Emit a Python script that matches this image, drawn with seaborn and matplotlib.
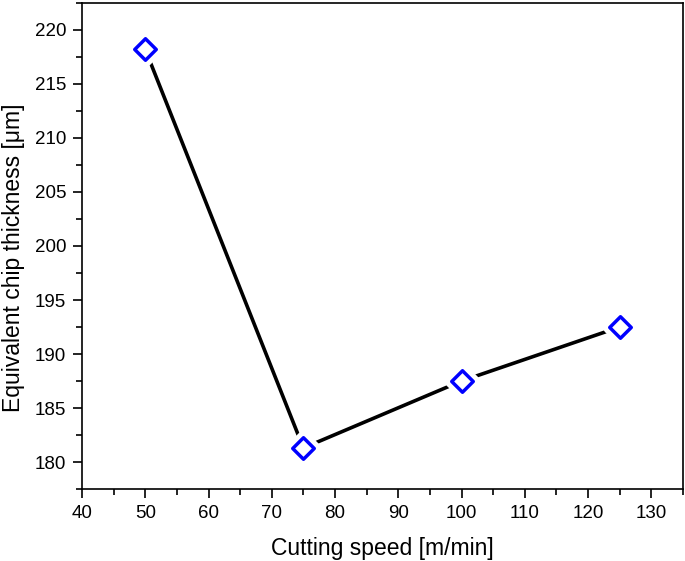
import numpy as np
import pandas as pd
import matplotlib
matplotlib.use('Agg')
import matplotlib.pyplot as plt
import seaborn as sns
from matplotlib.ticker import MultipleLocator

# Дані
cutting_speed = [50, 75, 100, 125]
chip_thickness = [218.2, 181.3, 187.5, 192.5]

df = pd.DataFrame({'speed': cutting_speed, 'thickness': chip_thickness})

sns.set_style('ticks')
plt.rcParams['font.family'] = ['Liberation Sans', 'DejaVu Sans']
plt.rcParams['axes.linewidth'] = 1.2
plt.rcParams['text.color'] = 'black'
plt.rcParams['axes.labelcolor'] = 'black'
plt.rcParams['xtick.color'] = 'black'
plt.rcParams['ytick.color'] = 'black'

fig = plt.figure(figsize=(6.85, 5.61), dpi=100)
ax = fig.add_axes([0.1197, 0.1283, 0.8773, 0.8664])

# лінія
sns.lineplot(data=df, x='speed', y='thickness', color='black', linewidth=2.6, ax=ax, zorder=2)
# білий ореол навколо маркерів (розрив лінії як в Origin)
sns.scatterplot(data=df, x='speed', y='thickness', marker='D', s=130, color='white',
                edgecolor='white', linewidth=9, ax=ax, zorder=3)
# маркери
sns.scatterplot(data=df, x='speed', y='thickness', marker='D', s=120, color='white',
                edgecolor='#0000ff', linewidth=2.5, ax=ax, zorder=4)

ax.set_xlim(40, 135)
ax.set_ylim(177.5, 222.5)
ax.xaxis.set_major_locator(MultipleLocator(10))
ax.xaxis.set_minor_locator(MultipleLocator(5))
ax.yaxis.set_major_locator(MultipleLocator(5))
ax.yaxis.set_minor_locator(MultipleLocator(2.5))
ax.set_xticks(np.arange(40, 131, 10))

ax.tick_params(which='major', direction='out', length=6.5, width=1.2, labelsize=13.5, pad=5)
ax.tick_params(which='minor', direction='out', length=4, width=1.2)
ax.tick_params(top=False, right=False, which='both')
for s in ax.spines.values():
    s.set_visible(True)
    s.set_color('black')

ax.set_xlabel('Cutting speed [m/min]', fontsize=16.5, labelpad=11)
ax.set_ylabel('Equivalent chip thickness [\u03bcm]', fontsize=16.5)
ax.yaxis.set_label_coords(-0.095, 0.475)

fig.savefig('out.png', dpi=100)
